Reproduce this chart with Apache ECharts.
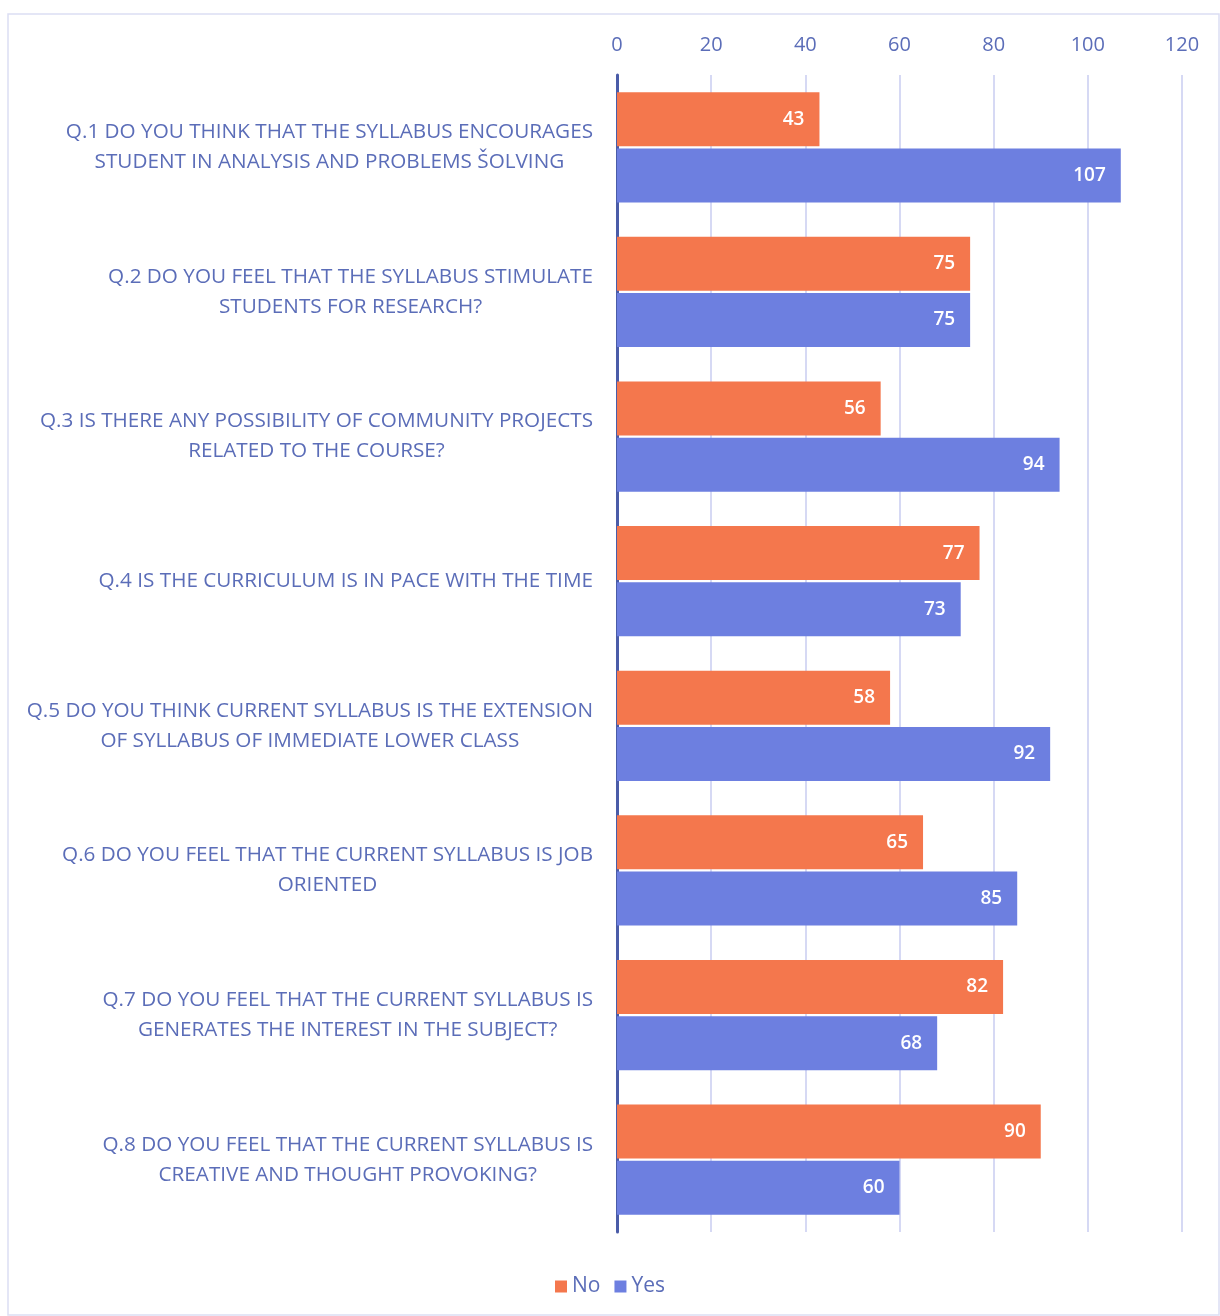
<!DOCTYPE html>
<html><head><meta charset="utf-8">
<script src="https://cdn.jsdelivr.net/npm/echarts@6/dist/echarts.min.js"></script>
<style>html,body{margin:0;padding:0;background:#fff}#c{width:1220px;height:1316px}</style>
</head><body><div id="c"></div>
<script>
const categories = [
  "Q.1 DO YOU THINK THAT THE SYLLABUS ENCOURAGES\nSTUDENT IN ANALYSIS AND PROBLEMS ŠOLVING",
  "Q.2 DO YOU FEEL THAT THE SYLLABUS STIMULATE\nSTUDENTS FOR RESEARCH?",
  "Q.3 IS THERE ANY POSSIBILITY OF COMMUNITY PROJECTS\nRELATED TO THE COURSE?",
  "Q.4 IS THE CURRICULUM IS IN PACE WITH THE TIME",
  "Q.5 DO YOU THINK CURRENT SYLLABUS IS THE EXTENSION\nOF SYLLABUS OF IMMEDIATE LOWER CLASS",
  "Q.6 DO YOU FEEL THAT THE CURRENT SYLLABUS IS JOB\nORIENTED",
  "Q.7 DO YOU FEEL THAT THE CURRENT SYLLABUS IS\nGENERATES THE INTEREST IN THE SUBJECT?",
  "Q.8 DO YOU FEEL THAT THE CURRENT SYLLABUS IS\nCREATIVE AND THOUGHT PROVOKING?"
];
const seriesNames = ["No", "Yes"];
const noValues = [43, 75, 56, 77, 58, 65, 82, 90];
const yesValues = [107, 75, 94, 73, 92, 85, 68, 60];
const xTicks = [0, 20, 40, 60, 80, 100, 120];

const textColor = '#5B6DB8';
const chart = echarts.init(document.getElementById('c'));
const barLabel = {show: true, position: 'insideRight', distance: 15, color: '#fff', fontFamily: 'Open Sans', fontSize: 19, fontWeight: 600};
chart.setOption({
  animation: false,
  graphic: [{type:'rect', shape:{x:8,y:14,width:1211,height:1301}, style:{fill:'none', stroke:'#DCDEF3', lineWidth:1.5}, silent:true}],
  grid: {left: 617, right: 38, top: 75, bottom: 84},
  legend: {
    data: seriesNames, bottom: 14, left: 'center', itemWidth: 12, itemHeight: 12, itemGap: 14,
    icon: 'rect',
    textStyle: {fontFamily: 'Open Sans', fontSize: 21, color: textColor}
  },
  xAxis: {
    type: 'value', position: 'top', min: xTicks[0], max: xTicks[xTicks.length-1], interval: 20,
    axisLine: {show: false}, axisTick: {show: false},
    axisLabel: {margin: 20, fontFamily: 'Open Sans', fontSize: 20, color: textColor},
    splitLine: {show: true, lineStyle: {color: '#C9CCF0', width: 1.5}}
  },
  yAxis: {
    type: 'category', data: categories, inverse: true,
    axisLine: {show: true, lineStyle: {color: '#4A5CA8', width: 3}},
    axisTick: {show: false},
    axisLabel: {
      margin: 24, align: 'right',
      formatter: v => v.split('\n').map(s => '{c|' + s + '}').join('\n'),
      rich: {c: {align: 'center', fontFamily: 'Open Sans', fontSize: 20.7, color: textColor, lineHeight: 30}}
    }
  },
  series: [
    {name: seriesNames[0], type: 'bar', data: noValues, barWidth: 54, barGap: '4%',
     itemStyle: {color: '#F4774D'}, label: barLabel},
    {name: seriesNames[1], type: 'bar', data: yesValues, barWidth: 54, barGap: '4%',
     itemStyle: {color: '#6D7FE0'}, label: barLabel}
  ]
});
</script></body></html>
